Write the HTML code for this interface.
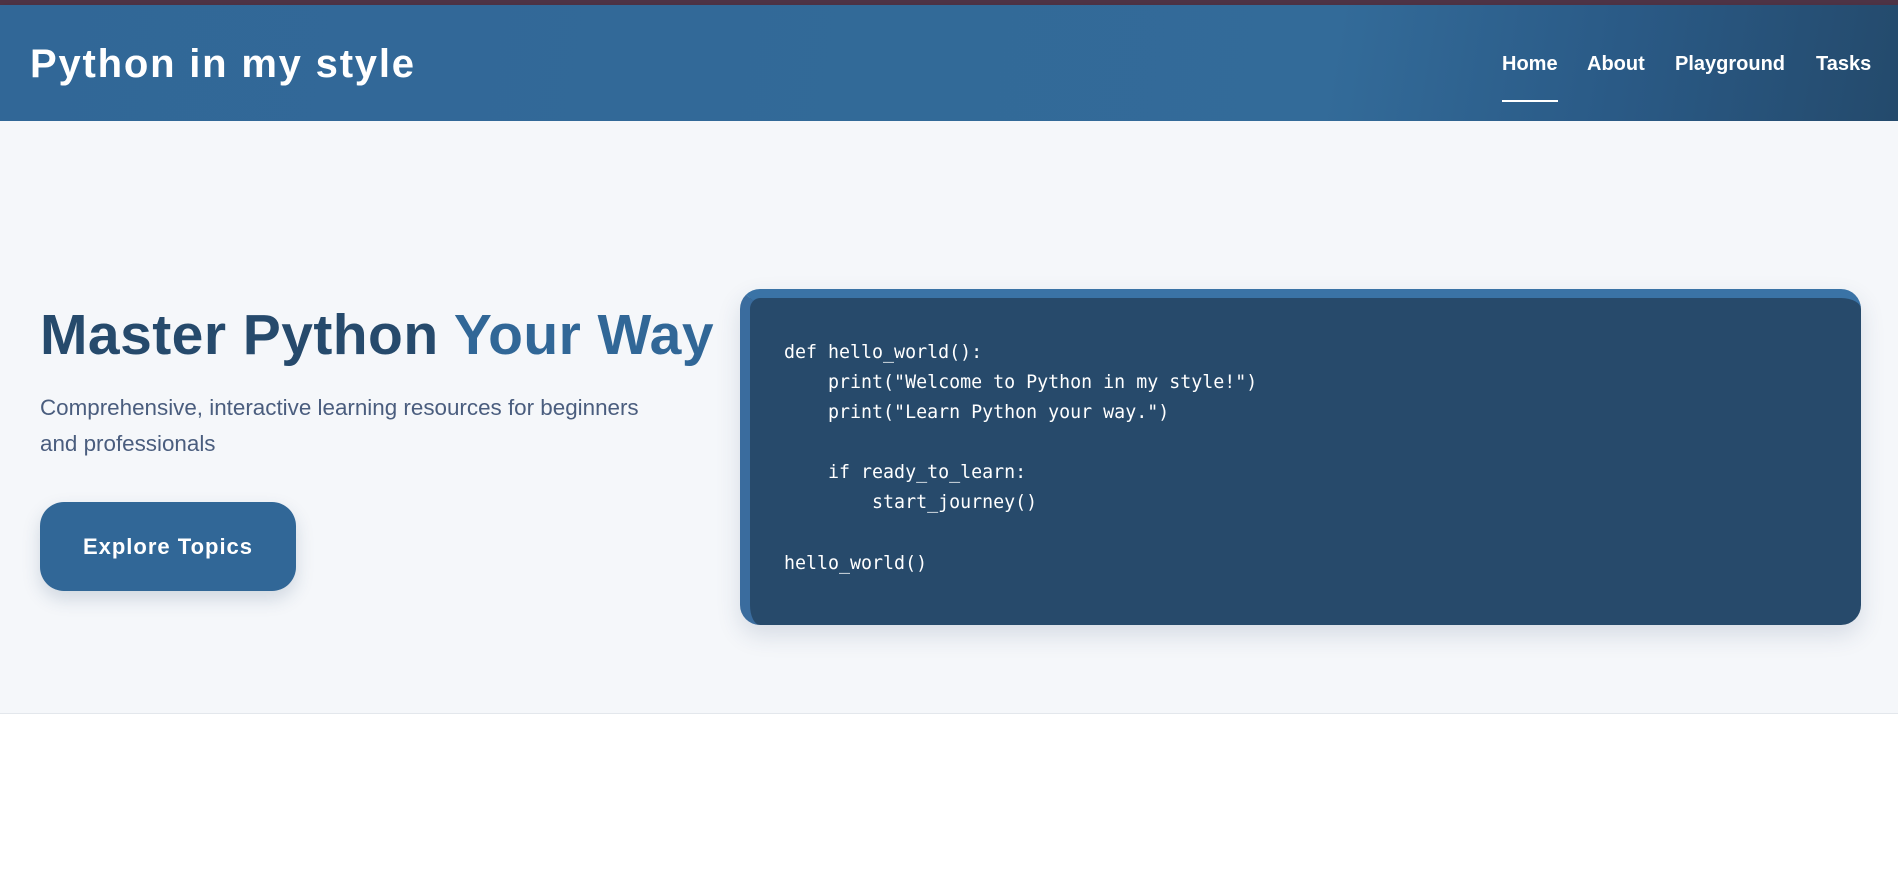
<!DOCTYPE html>
<html><head><meta charset="utf-8"><style>
*{margin:0;padding:0;box-sizing:border-box}
html,body{width:1898px;height:870px;overflow:hidden;background:#fff;font-family:"Liberation Sans",Arial,sans-serif}
.top{position:absolute;left:0;top:0;width:1898px;height:5px;background:#4f3446}
header{position:absolute;left:0;top:5px;width:1898px;height:116px;background:linear-gradient(100deg,#316797 0%,#336b99 70%,#2a5a86 85%,#244a6c 100%);box-shadow:0 3px 10px rgba(0,0,0,.12)}
.logo{position:absolute;left:30px;top:37px;font-size:40px;font-weight:bold;color:#fff;letter-spacing:1.8px}
nav a{position:absolute;top:48px;color:#fff;font-weight:bold;font-size:20px;text-decoration:none}
.ul{position:absolute;left:1502px;top:95px;width:56px;height:2px;background:#fff}
.hero{position:absolute;left:0;top:121px;width:1898px;height:593px;background:#f5f7fa;border-bottom:1px solid #e3e7ec}
h1{position:absolute;left:40px;top:302px;font-size:57px;font-weight:bold;color:#264a6c;letter-spacing:0.45px;white-space:nowrap}
h1 span{color:#316797}
.sub{position:absolute;left:40px;top:390px;width:630px;font-size:22.4px;line-height:36px;color:#4a5d7e}
.btn{position:absolute;left:40px;top:502px;width:256px;height:89px;border-radius:24px;background:#316797;color:#fff;font-weight:bold;font-size:22px;letter-spacing:1px;text-align:center;line-height:89px;box-shadow:0 8px 18px rgba(40,70,110,.18)}
.code{position:absolute;left:740px;top:289px;width:1121px;height:336px;border-radius:20px;background:#274a6b;border-top:9px solid #3a73a6;border-left:10px solid #3a6c9e;box-shadow:0 10px 24px rgba(40,70,110,.15);overflow:hidden}
.code:before{content:"";position:absolute;right:0;top:-9px;width:400px;height:9px;background:linear-gradient(90deg,#3a73a6,#8fb6ec)}
pre{position:absolute;left:34px;top:40px;font-family:"DejaVu Sans Mono","Liberation Mono",monospace;font-size:18.3px;line-height:30.1px;color:#fff}
</style></head><body>
<div class="top"></div>
<header><div class="logo">Python in my style</div>
<nav><a style="left:1502px">Home</a><a style="left:1587px">About</a><a style="left:1675px">Playground</a><a style="left:1816px">Tasks</a></nav>
<div class="ul"></div></header>
<div class="hero"></div>
<h1>Master Python <span>Your Way</span></h1>
<div class="sub">Comprehensive, interactive learning resources for beginners and professionals</div>
<div class="btn">Explore Topics</div>
<div class="code"><pre>def hello_world():
    print("Welcome to Python in my style!")
    print("Learn Python your way.")

    if ready_to_learn:
        start_journey()

hello_world()</pre></div>
</body></html>
